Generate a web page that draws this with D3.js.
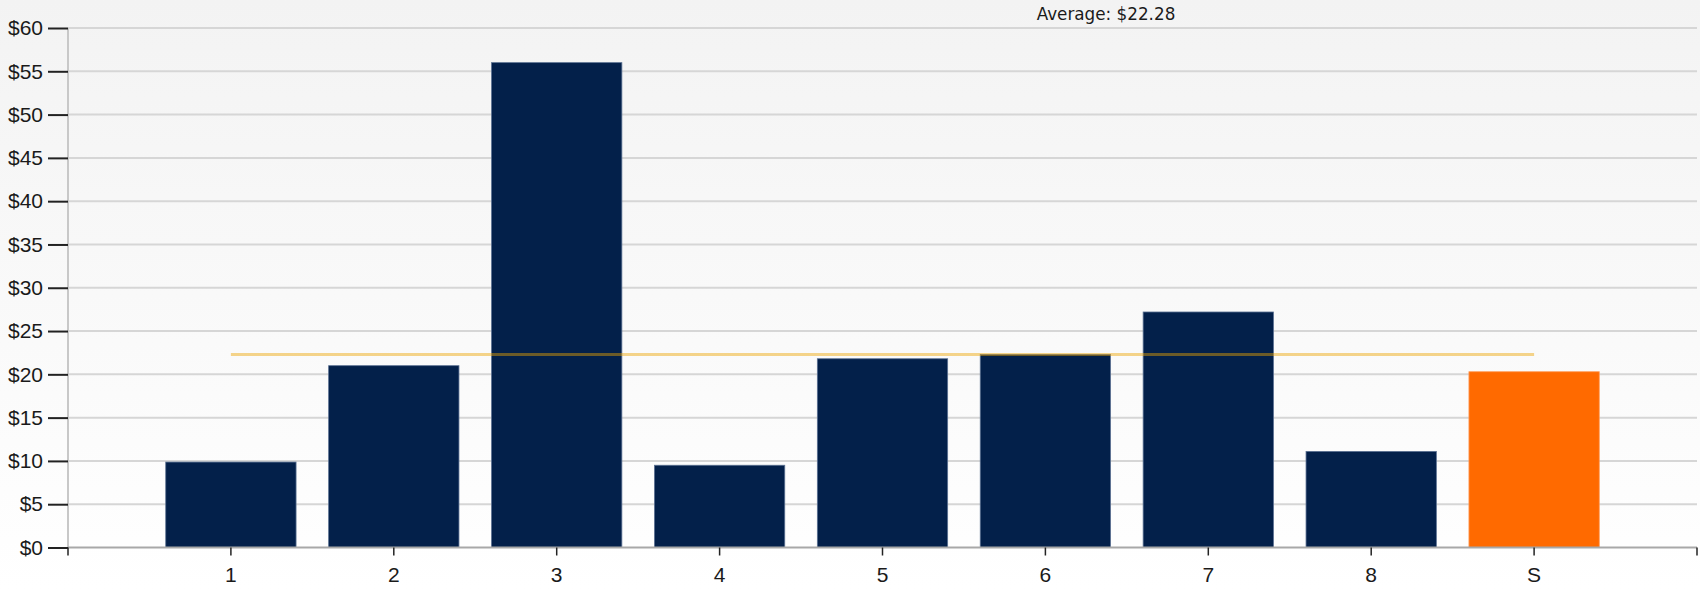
<!DOCTYPE html>
<html>
<head>
<meta charset="utf-8">
<script src="https://cdn.jsdelivr.net/npm/d3@7/dist/d3.min.js"></script>
<style>
  html, body { margin: 0; padding: 0; background: #fff; }
  svg { display: block; }
  text { font-family: "Liberation Sans", Arial, sans-serif; fill: #1a1a1a; }
</style>
</head>
<body>
<svg id="chart" width="1700" height="590"></svg>
<script>
// Category labels along the x axis
const categories = ["1", "2", "3", "4", "5", "6", "7", "8", "S"];
// Dollar amount per category
const values = [9.87, 21.0, 56.0, 9.5, 21.8, 22.3, 27.2, 11.1, 20.3];
// Which bar is highlighted
const highlighted = ["S"];
// Y axis tick values
const yTicks = [0, 5, 10, 15, 20, 25, 30, 35, 40, 45, 50, 55, 60];
// Reference average
const averageValue = [22.28];

const W = 1700, H = 590;
const margin = { top: 28, right: 3, bottom: 42.5, left: 68 };

const svg = d3.select("#chart");

// Soft vertical background gradient
const defs = svg.append("defs");
const grad = defs.append("linearGradient")
  .attr("id", "bg").attr("x1", 0).attr("y1", 0).attr("x2", 0).attr("y2", 1);
grad.append("stop").attr("offset", "0%").attr("stop-color", "#f3f3f3");
grad.append("stop").attr("offset", "100%").attr("stop-color", "#ffffff");
svg.append("rect").attr("width", W).attr("height", H).attr("fill", "url(#bg)");

const x = d3.scaleBand()
  .domain(categories)
  .range([margin.left, W - margin.right])
  .paddingInner(0.2)
  .paddingOuter(0.6);

const y = d3.scaleLinear()
  .domain([0, 60])
  .range([H - margin.bottom, margin.top]);

// Horizontal gridlines
svg.append("g")
  .selectAll("line")
  .data(yTicks.filter(d => d > 0))
  .join("line")
  .attr("x1", margin.left)
  .attr("x2", W - margin.right)
  .attr("y1", d => y(d))
  .attr("y2", d => y(d))
  .attr("stroke", "#d6d6d6")
  .attr("stroke-width", 2);

// Left axis line
svg.append("line")
  .attr("x1", margin.left).attr("x2", margin.left)
  .attr("y1", y(60)).attr("y2", y(0))
  .attr("stroke", "#c8c8c8").attr("stroke-width", 2);

// Bars
svg.append("g")
  .selectAll("rect")
  .data(categories.map((c, i) => ({ c, v: values[i] })))
  .join("rect")
  .attr("x", d => x(d.c))
  .attr("width", x.bandwidth())
  .attr("y", d => y(d.v))
  .attr("height", d => y(0) - y(d.v))
  .attr("fill", d => highlighted.includes(d.c) ? "#ff6a00" : "#03204a")
  .attr("stroke", d => highlighted.includes(d.c) ? "#ff9a55" : "#5b7192")
  .attr("stroke-width", 0.8);

// Average line, spanning first to last category centre
const avgY = y(averageValue[0]);
svg.append("line")
  .attr("x1", x(categories[0]) + x.bandwidth() / 2)
  .attr("x2", x(categories[categories.length - 1]) + x.bandwidth() / 2)
  .attr("y1", avgY).attr("y2", avgY)
  .attr("stroke", "#eea500")
  .attr("stroke-opacity", 0.45)
  .attr("stroke-width", 3);

svg.append("text")
  .attr("x", 1106)
  .attr("y", 20)
  .attr("text-anchor", "middle")
  .style("font-family", "'DejaVu Sans', Tahoma, sans-serif")
  .style("font-size", "16.8px")
  .text("Average: $" + averageValue[0].toFixed(2));

// Y axis
const yAxis = svg.append("g")
  .attr("transform", `translate(${margin.left},0)`)
  .call(d3.axisLeft(y).tickValues(yTicks).tickFormat(d => "$" + d).tickSize(20).tickPadding(5));
yAxis.select(".domain").remove();
yAxis.selectAll(".tick line").attr("stroke", "#222").attr("stroke-width", 2);
yAxis.selectAll(".tick text").style("font-size", "21px").attr("fill", "#1a1a1a");

// X axis baseline
svg.append("line")
  .attr("x1", margin.left).attr("x2", W - margin.right)
  .attr("y1", y(0)).attr("y2", y(0))
  .attr("stroke", "#a8a8a8").attr("stroke-width", 2);

const xAxis = svg.append("g")
  .attr("transform", `translate(0,${y(0)})`)
  .call(d3.axisBottom(x).tickSize(8).tickPadding(12));
xAxis.select(".domain").remove();
xAxis.selectAll(".tick line").attr("stroke", "#222").attr("stroke-width", 1.5);
xAxis.selectAll(".tick text").style("font-size", "21px").attr("fill", "#1a1a1a");

// End ticks at both ends of the x range
svg.append("g")
  .selectAll("line")
  .data(x.range())
  .join("line")
  .attr("x1", d => d).attr("x2", d => d)
  .attr("y1", y(0)).attr("y2", y(0) + 8)
  .attr("stroke", "#222").attr("stroke-width", 1.5);
</script>
</body>
</html>
